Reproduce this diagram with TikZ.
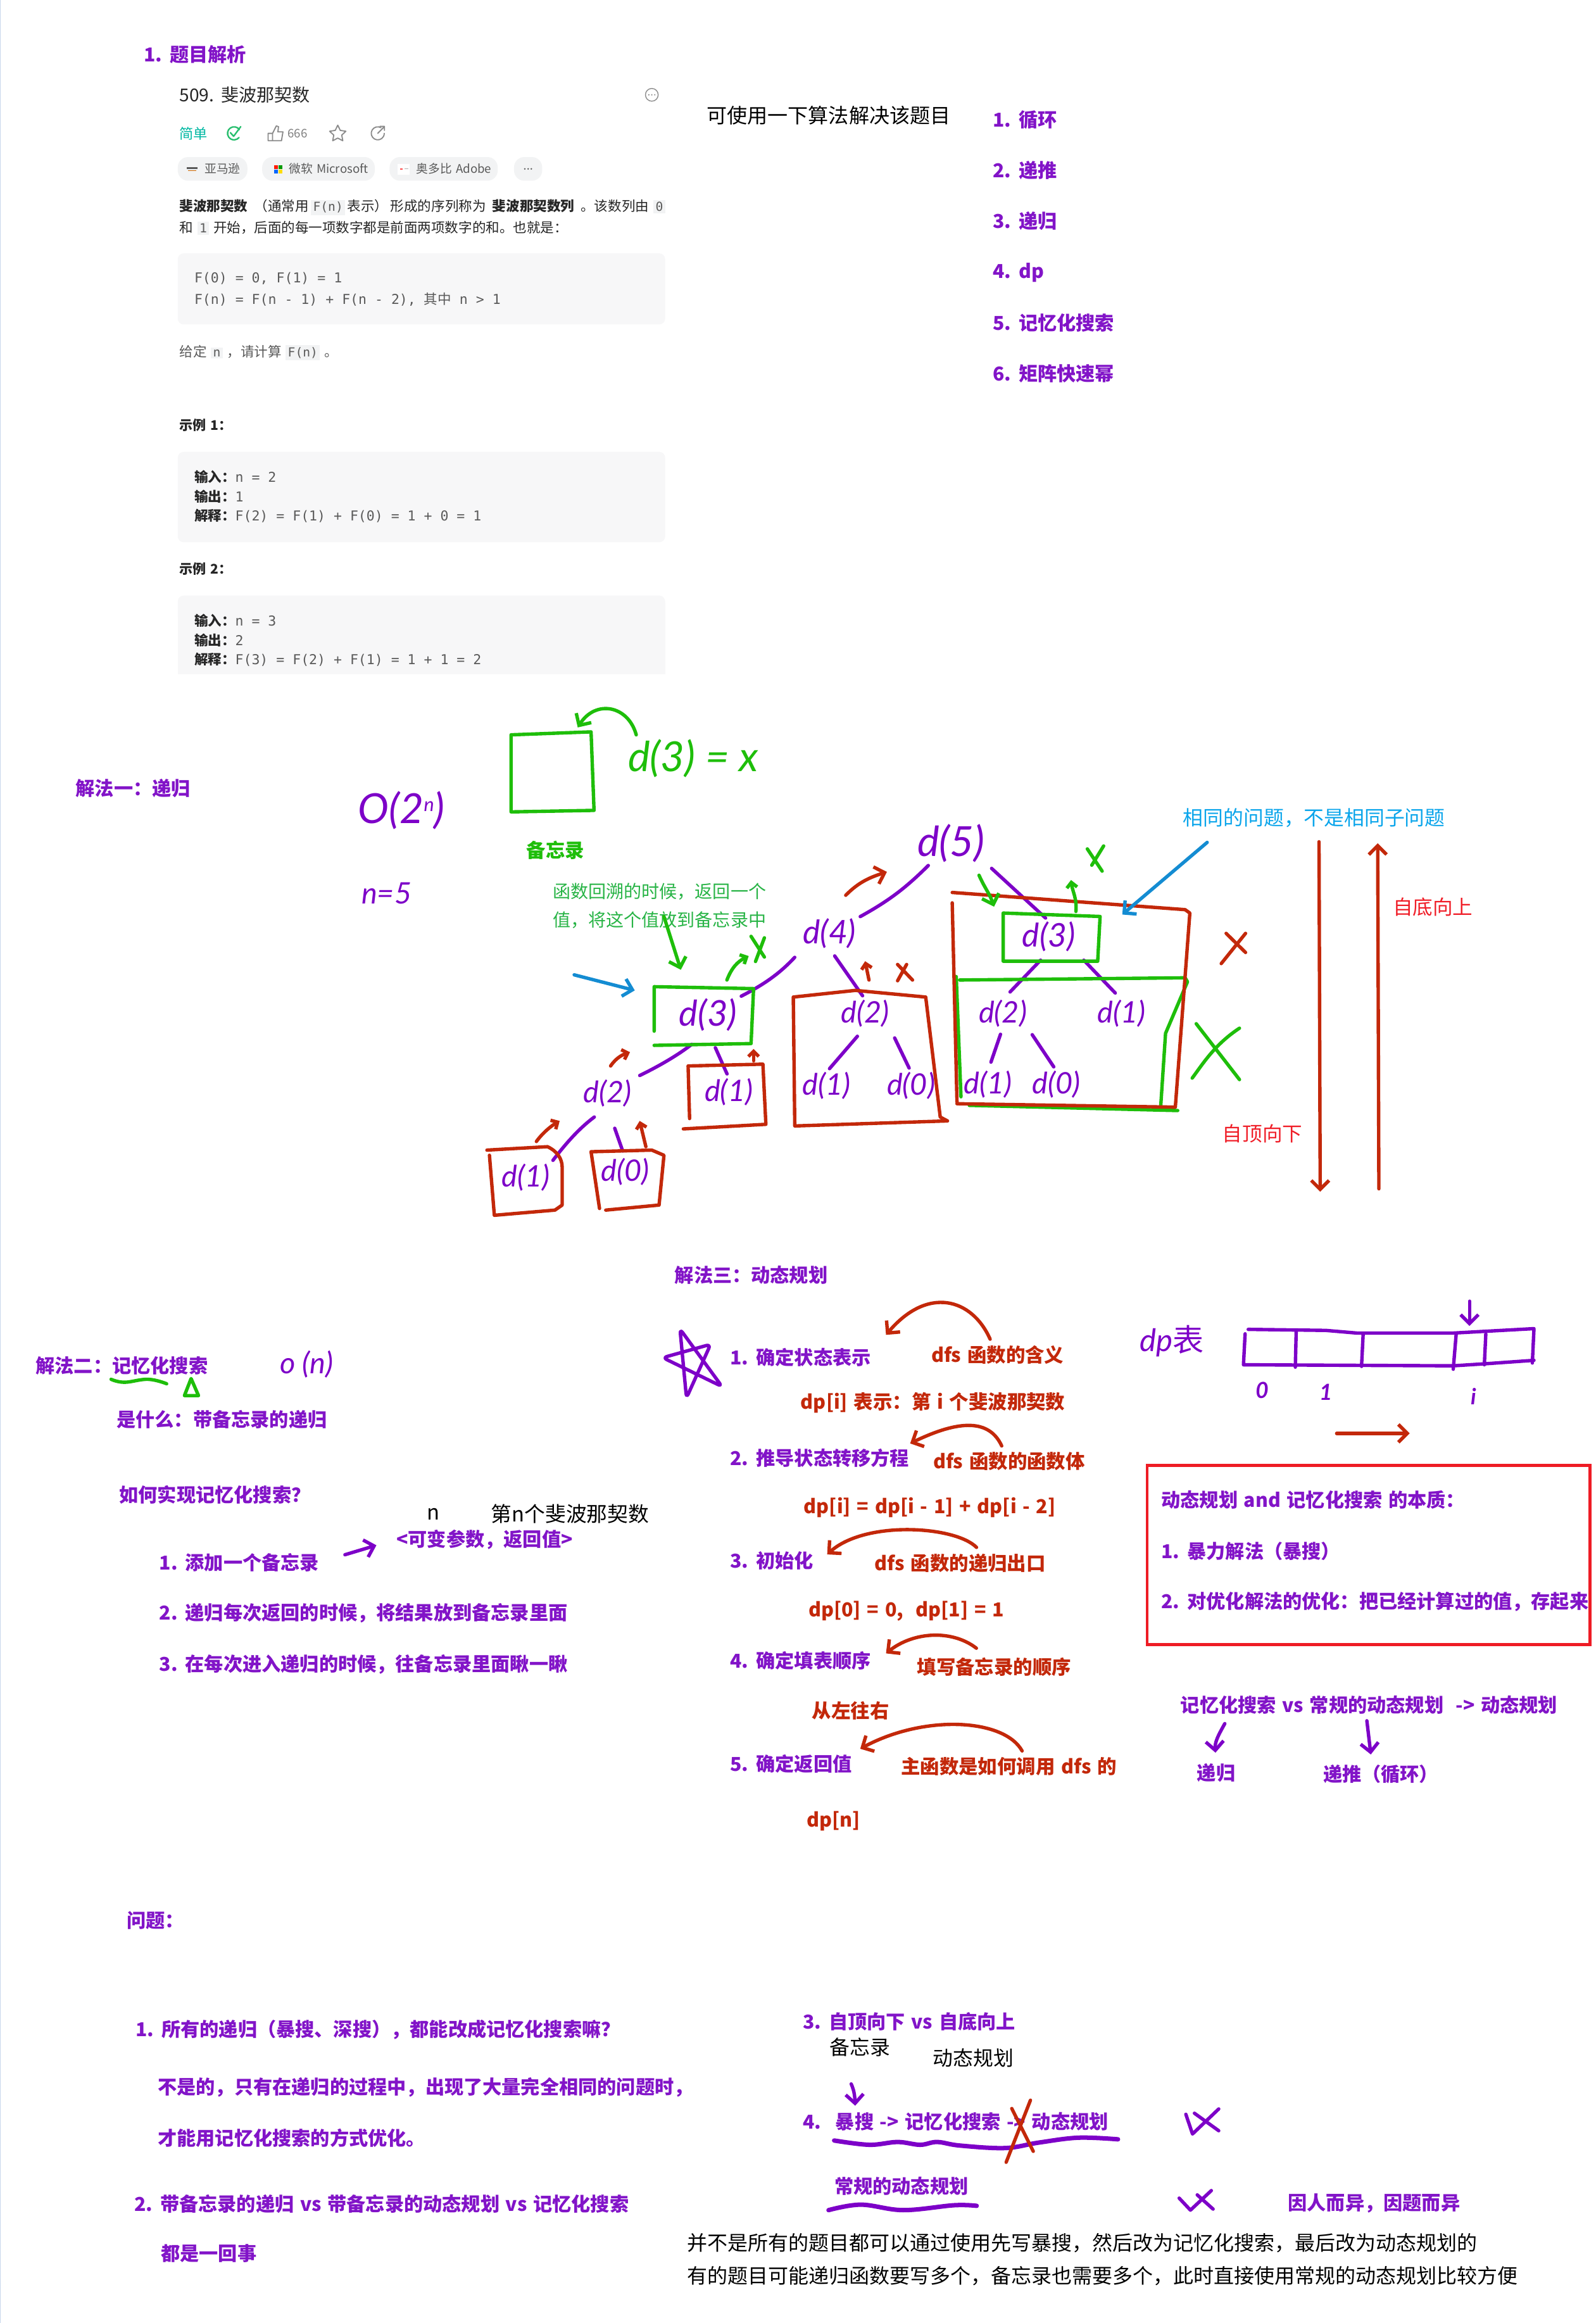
\documentclass[tikz,border=0pt]{standalone}
\usepackage{fontspec}
\setmainfont[WordSpace=1.4]{Noto Sans CJK SC}
\setmonofont{DejaVu Sans Mono}
\newfontfamily\handfont{Lato}
\usetikzlibrary{arrows.meta}
\definecolor{textpurple}{RGB}{130,20,200}
\definecolor{penpurple}{RGB}{125,0,200}
\definecolor{pengreen}{RGB}{30,190,10}
\definecolor{textgreen}{RGB}{40,180,70}
\definecolor{penred}{RGB}{195,40,10}
\definecolor{textred}{RGB}{240,30,40}
\definecolor{boxred}{RGB}{238,28,37}
\definecolor{penblue}{RGB}{20,140,210}
\definecolor{textblue}{RGB}{10,165,235}
\definecolor{chipgray}{RGB}{242,243,244}
\definecolor{codegray}{RGB}{247,247,248}
\definecolor{inkgray}{RGB}{38,38,38}
\definecolor{softgray}{RGB}{90,90,90}
\definecolor{icongray}{RGB}{140,140,140}
\definecolor{easyteal}{RGB}{0,184,163}
\definecolor{donegreen}{RGB}{40,190,110}
\definecolor{edgeblue}{RGB}{200,215,235}
\newcommand{\chip}[1]{{\setlength{\fboxsep}{1.4pt}\colorbox{chipgray}{\ttfamily\fontsize{8.4}{9}\selectfont\color{softgray}#1}}}

\begin{document}
\begin{tikzpicture}[
    x=1pt, y=-1pt,
    ptext/.style={anchor=west, inner sep=0pt, text=textpurple, font=\bfseries\fontsize{12.9}{15}\selectfont},
    rtext/.style={anchor=west, inner sep=0pt, text=penred, font=\bfseries\fontsize{13}{15}\selectfont},
    ktext/.style={anchor=west, inner sep=0pt, text=black, font=\fontsize{#1}{#1}\selectfont},
    page/.style={anchor=west, inner sep=0pt, text=inkgray, font=\fontsize{9.2}{11}\selectfont},
    pagecode/.style={anchor=west, inner sep=0pt, text=softgray, font=\ttfamily\fontsize{9.2}{11}\selectfont},
    pagechip/.style={anchor=west, inner sep=0pt, text=softgray, font=\fontsize{8}{10}\selectfont},
    noteg/.style={anchor=west, inner sep=0pt, text=textgreen, font=\fontsize{12}{14}\selectfont},
    noter/.style={anchor=west, inner sep=0pt, text=textred, font=\fontsize{13.5}{15}\selectfont},
    hand/.style={inner sep=0pt, text=penpurple, font=\handfont\itshape\fontsize{#1}{#1}\selectfont},
    pen/.style={line width=2.3pt, line cap=round, line join=round},
    ppen/.style={pen, draw=penpurple},
    gpen/.style={pen, draw=pengreen},
    rpen/.style={pen, draw=penred},
    bpen/.style={pen, draw=penblue},
    tree/.style={ppen, shorten >=3pt, shorten <=3pt},
    tip/.style={-{Straight Barb[length=6pt,width=12pt]}},
    smalltip/.style={-{Straight Barb[length=3.5pt,width=7pt]}},
    icon/.style={draw=icongray, line width=.8pt, line join=round, line cap=round}
]
\fill[white] (0,0) rectangle (1077,1568);
\useasboundingbox (0,0) rectangle (1077,1568);
\fill[edgeblue] (0,0) rectangle (0.6,1568);

% --- Problem page ---
\node[ptext] (head1) at (97,37) {1. 题目解析};
\node[anchor=west, inner sep=0pt, text=inkgray, font=\fontsize{12}{14}\selectfont] (title) at (121,64) {509. 斐波那契数};
\draw[icon, line width=.6pt] (440,64) circle (4.3);
\fill[icongray] (438,64) circle (.5) (440,64) circle (.5) (442,64) circle (.5);

\node[pagechip, text=easyteal, font=\fontsize{9.5}{11}\selectfont] (easy) at (121,90) {简单};
\draw[donegreen, line width=1pt, line cap=round] (158,90) ++(-35:4.4) arc (-35:-320:4.4);
\draw[donegreen, line width=1pt, line cap=round, line join=round] (155.5,89.5) -- (157.7,92) -- (162.5,85.5);
\draw[icon] (181,90) -- (184,90) -- (186.5,85) -- (188,85.5) -- (187.6,89) -- (191,89) -- (190,95) -- (181,95) -- cycle (184,90) -- (184,95);
\node[pagechip, font=\fontsize{8}{10}\selectfont, text=gray] (likes) at (194,90) {666};
\draw[icon] (228,84.5) -- (229.7,88) -- (233.5,88.6) -- (230.7,91.2) -- (231.4,95) -- (228,93.2) -- (224.6,95) -- (225.3,91.2) -- (222.5,88.6) -- (226.3,88) -- cycle;
\draw[icon] (255,90) ++(-60:4.4) arc (-60:-360:4.4) ++(0,0);
\draw[icon] (255,90) -- (259.5,85.5) (256.5,85.3) -- (259.5,85.3) -- (259.5,88);

\fill[chipgray, rounded corners=7pt] (120,106) rectangle (167,122);
\fill[chipgray, rounded corners=7pt] (177,106) rectangle (253,122);
\fill[chipgray, rounded corners=7pt] (263,106) rectangle (336,122);
\fill[chipgray, rounded corners=7pt] (347,106) rectangle (366,122);
\fill[softgray] (126,113) rectangle (133.5,114.2);
\fill[orange!80!black] (127,114.8) rectangle (132.5,115.3);
\fill[red!80!orange] (185,111.5) rectangle (187.6,114.2);
\fill[green!60!black] (188,111.5) rectangle (190.6,114.2);
\fill[blue!60!cyan] (185,114.6) rectangle (187.6,117.3);
\fill[yellow!80!orange] (188,114.6) rectangle (190.6,117.3);
\fill[white] (268.5,110.5) rectangle (276.5,118);
\fill[red!70] (270,113.5) rectangle (272,114.7);
\fill[gray!60] (273,113.8) rectangle (275.5,114.3);
\node[pagechip] (amazon) at (138,114) {亚马逊};
\node[pagechip] (msoft) at (195,114) {微软 Microsoft};
\node[pagechip] (adobe) at (281,114) {奥多比 Adobe};
\fill[softgray] (354.3,114) circle (.6) (356.5,114) circle (.6) (358.7,114) circle (.6);

\node[page] (para1) at (121,140) {\textbf{斐波那契数}\ \,（通常用\,\chip{F(n)}\,表示）\,形成的序列称为\, \textbf{斐波那契数列} \,。该数列由\,\,\chip{0}};
\node[page] (para2) at (121,154) {和 \chip{1} 开始，后面的每一项数字都是前面两项数字的和。也就是：};

\fill[codegray, rounded corners=4pt] (120,171) rectangle (449,219);
\node[pagecode] (code1) at (131,188) {F(0) = 0, F(1) = 1};
\node[pagecode] (code2) at (131,202) {F(n) = F(n - 1) + F(n - 2), {\rmfamily 其中} n > 1};
\node[page, text=softgray] (ask) at (121,238) {给定 \chip{n} ，请计算 \chip{F(n)} 。};

\node[page, font=\bfseries\fontsize{9}{11}\selectfont] (ex1) at (121,287) {示例 1：};
\fill[codegray, rounded corners=4pt] (120,305) rectangle (449,366);
\node[pagecode] (ex1a) at (131,322) {{\rmfamily\bfseries\color{inkgray}输入：}n = 2};
\node[pagecode] (ex1b) at (131,335) {{\rmfamily\bfseries\color{inkgray}输出：}1};
\node[pagecode] (ex1c) at (131,348) {{\rmfamily\bfseries\color{inkgray}解释：}F(2) = F(1) + F(0) = 1 + 0 = 1};

\node[page, font=\bfseries\fontsize{9}{11}\selectfont] (ex2) at (121,384) {示例 2：};
\fill[codegray] (120,407) rectangle (449,455);
\fill[codegray, rounded corners=4pt] (120,402) rectangle (449,420);
\node[pagecode] (ex2a) at (131,419) {{\rmfamily\bfseries\color{inkgray}输入：}n = 3};
\node[pagecode] (ex2b) at (131,432) {{\rmfamily\bfseries\color{inkgray}输出：}2};
\node[pagecode] (ex2c) at (131,445) {{\rmfamily\bfseries\color{inkgray}解释：}F(3) = F(2) + F(1) = 1 + 1 = 2};

% --- Method list ---
\node[ktext=13.7] (methods) at (477,78) {可使用一下算法解决该题目};
\node[ptext] (way1) at (670,81) {1. 循环};
\node[ptext] (way2) at (670,115) {2. 递推};
\node[ptext] (way3) at (670,149) {3. 递归};
\node[ptext] (way4) at (670,184) {4. dp};
\node[ptext] (way5) at (670,218) {5. 记忆化搜索};
\node[ptext] (way6) at (670,252) {6. 矩阵快速幂};

% --- Method one: recursion tree ---
\node[ptext] (sol1) at (51,532) {解法一：递归};
\node[hand=28] (cost1) at (271,547) {O(2\raisebox{8pt}{\fontsize{13}{13}\selectfont n})};
\node[hand=20] (nfive) at (261,603) {n=5};

% Memo box
\draw[gpen] (345,496) -- (399,494) -- (401,547) -- (345,548) -- cycle;
\node[hand=28, text=pengreen] (memoval) at (468,512) {d(3) = x};
\draw[gpen, tip] (429.5,496) .. controls (424,476) and (402,472) .. (390,491);
\node[anchor=center, inner sep=0pt, text=pengreen, font=\bfseries\fontsize{13}{15}\selectfont] (memo) at (375,574) {备忘录};
\node[noteg] (note1) at (373,602) {函数回溯的时候，返回一个};
\node[noteg] (note2) at (373,621) {值，将这个值放到备忘录中};

% Call tree nodes
\node[hand=28] (d5) at (642,569) {d(5)};
\node[hand=22] (d4) at (560,630) {d(4)};
\node[hand=24] (d3l) at (478,685) {d(3)};
\node[hand=20] (d2l) at (410,738) {d(2)};
\node[hand=20] (d1a) at (492,737) {d(1)};
\node[hand=20] (d1b) at (355,795) {d(1)};
\node[hand=20] (d0b) at (422,791) {d(0)};
\node[hand=20] (d2m) at (584,684) {d(2)};
\node[hand=20] (d1c) at (558,733) {d(1)};
\node[hand=20] (d0c) at (615,733) {d(0)};
\node[hand=22] (d3r) at (708,632) {d(3)};
\node[hand=20] (d2r) at (677,684) {d(2)};
\node[hand=20] (d1r) at (757,684) {d(1)};
\node[hand=20] (d1s) at (667,732) {d(1)};
\node[hand=20] (d0s) at (713,732) {d(0)};

% Call tree edges
\draw[tree] (d5) to[bend left=8] (d4);
\draw[tree, shorten <=6pt] (d5.south east) -- (d3r.north);
\draw[tree, shorten <=8pt] (d4.south west) to[bend left=10] (d3l.north east);
\draw[tree, shorten <=6pt] (d4.south) -- (d2m.north);
\draw[tree, shorten <=14pt, shorten >=6pt] (d3l.south) to[bend left=6] (d2l.north east);
\draw[tree, shorten <=12pt] (d3l.south) -- (d1a.north);
\draw[tree, shorten <=11pt] (d2l.south) to[bend right=8] (d1b.north east);
\draw[tree, shorten <=15pt, shorten >=5pt] (d2l.south) -- (d0b.north);
\draw[tree, shorten <=8pt, shorten >=3pt] (d2m.south) -- (d1c.north);
\draw[tree, shorten <=8pt, shorten >=3pt] (d2m.south east) -- (d0c.north);
\draw[tree, shorten <=8pt, shorten >=7pt] (d3r.south) -- (d2r.north);
\draw[tree, shorten <=8pt, shorten >=6pt] (d3r.south east) -- (d1r.north);
\draw[tree, shorten <=5pt, shorten >=6pt] (d2r.south) -- (d1s.north);
\draw[tree, shorten <=6pt] (d2r.south east) -- (d0s.north);

% Green memo boxes
\draw[gpen] (441.6,666) -- (508.7,667.3) -- (507,704.4) -- (441.6,705.6) (441.6,666) -- (441.6,696);
\draw[gpen] (677.2,616.3) -- (742.6,618.6) -- (741,648.8) -- (677.2,648.8) -- cycle;
\draw[gpen] (647.8,661.5) -- (800,660) -- (801.6,662.7) -- (786.8,697.5) -- (783.5,747.3);
\draw[gpen] (654.3,746.1) -- (795,749.6);
\draw[gpen] (645.5,659.2) -- (648.7,740.3);

% Red boxes
\draw[rpen] (464.5,719.5) -- (515,718.3) -- (517,758.9) -- (461.3,762) (464.5,719.5) -- (465.5,755);
\draw[rpen] (328.7,776.3) -- (369.6,774) .. controls (376,777) and (379.5,782) .. (379.5,788) -- (379.5,813.4) -- (374.6,816.8) -- (333.7,820.3) -- (330.4,779.8);
\draw[rpen] (399,777.4) -- (440,776.3) -- (448.2,779.8) -- (444.9,813.4) -- (408.9,816.8) (399,777.4) -- (404.7,815.7);
\draw[rpen] (535.5,673) -- (577.4,668.5) -- (624.9,673) -- (634.7,754) -- (639.6,756.6) -- (536.5,760) -- cycle;
\draw[rpen] (642.8,602.4) -- (800,614) -- (803.2,616.3) -- (793.4,747.3) -- (646,745) (642.8,609.4) -- (646,743.8);

% Green marks
\draw[gpen, tip] (448.2,618.7) -- (459.6,654.6);
\draw[gpen, smalltip] (490.7,661.5) .. controls (494,653) and (498,649) .. (505.4,645.3);
\draw[gpen] (507,632) -- (516,646) (516,633) -- (510,649);
\draw[gpen, tip] (660.9,590.8) .. controls (665,600) and (668,603) .. (671,612);
\draw[gpen, smalltip] (726.3,615.2) .. controls (727,606) and (724,602) .. (723,594);
\draw[gpen] (734,573) -- (744,588) (745,571) -- (737,584);
\draw[gpen] (807.5,691) -- (836.7,728.7) (836.7,694) .. controls (820,705) and (812,718) .. (804.8,727.7);

% Red marks
\draw[rpen, tip] (570.9,604.3) .. controls (580,595) and (588,592) .. (598.7,588.5);
\draw[rpen, smalltip] (586.6,661.5) -- (584,648.8);
\draw[rpen] (605.9,662) -- (612,651) (605.9,651) -- (616,661.5);
\draw[rpen, smalltip] (412.2,719.5) .. controls (416,714) and (420,712) .. (425.3,710.2);
\draw[rpen, smalltip] (508.7,716) -- (508.7,708);
\draw[rpen, smalltip] (362.1,770.5) .. controls (366,765) and (372,760) .. (377.8,756.6);
\draw[rpen, smalltip] (436,774) -- (431.8,756.6);
\draw[rpen] (824.4,650.4) -- (840.8,630) (827.7,630) -- (840.8,642.9);

% Blue arrows and the two directions
\draw[bpen, tip] (387.6,658) -- (428.5,668.5);
\draw[bpen, tip] (814.9,568.6) -- (757.6,617.3);
\node[anchor=west, inner sep=0pt, text=textblue, font=\fontsize{13.6}{15}\selectfont] (same) at (798.5,552) {相同的问题，不是相同子问题};
\draw[rpen, tip] (890.4,568.2) -- (891.2,804.4);
\draw[rpen, tip] (930.8,802.4) -- (930,569.2);
\node[noter] (upward) at (940,612) {自底向上};
\node[noter] (downward) at (825,765) {自顶向下};

% --- Method two: memoized search ---
\node[ptext] (sol2) at (24,922) {解法二：记忆化搜索};
\draw[gpen] plot[smooth, tension=.7] coordinates {(75,931) (84,933) (100,931) (112.5,934)};
\draw[gpen] (129,930.5) -- (124.5,942) -- (134,942) -- cycle;
\node[hand=20] (cost2) at (207,921) {o (n)};
\node[ptext] (what) at (78.6,958) {是什么：带备忘录的递归};
\node[ptext] (how) at (80.4,1009) {如何实现记忆化搜索？};
\node[ktext=14] (argn) at (288,1022) {n};
\node[ktext=14] (argf) at (331.4,1022) {第n个斐波那契数};
\node[ptext] (args) at (267.5,1039) {<可变参数，返回值>};
\node[ptext] (add1) at (107.4,1054.6) {1. 添加一个备忘录};
\node[ptext] (add2) at (107.4,1089) {2. 递归每次返回的时候，将结果放到备忘录里面};
\node[ptext] (add3) at (107.4,1123.3) {3. 在每次进入递归的时候，往备忘录里面瞅一瞅};
\draw[ppen, tip, shorten <=18pt, shorten >=14pt] (add1.east) -- (args.west);

% --- Method three: dynamic programming ---
\node[ptext] (sol3) at (455.3,860.7) {解法三：动态规划};
\draw[ppen, rounded corners=3pt] (447.4,916.4) -- (487.4,935.9) -- (459,897) -- (463.4,943.6) -- (479.7,907.4) -- cycle;

\node[ptext] (st1) at (492.8,916) {1. 确定状态表示};
\node[rtext] (fn1) at (628.5,914.4) {dfs 函数的含义};
\node[rtext] (val1) at (540.4,946.7) {dp[i] 表示：第 i 个斐波那契数};
\node[ptext] (st2) at (492.8,984.3) {2. 推导状态转移方程};
\node[rtext] (fn2) at (629.8,986.4) {dfs 函数的函数体};
\node[rtext] (val2) at (542.5,1017.4) {dp[i] = dp[i - 1] + dp[i - 2]};
\node[ptext] (st3) at (492.8,1053.2) {3. 初始化};
\node[rtext] (fn3) at (590.3,1055) {dfs 函数的递归出口};
\node[rtext] (val3) at (545.6,1087.4) {dp[0] = 0,\ \ dp[1] = 1};
\node[ptext] (st4) at (492.8,1121) {4. 确定填表顺序};
\node[rtext] (fn4) at (618.9,1125) {填写备忘录的顺序};
\node[rtext] (val4) at (548,1154.7) {从左往右};
\node[ptext] (st5) at (492.8,1190.4) {5. 确定返回值};
\node[rtext] (fn5) at (608,1192.3) {主函数是如何调用 dfs 的};
\node[rtext] (val5) at (544.3,1229.3) {dp[n]};

\draw[rpen, tip] ([shift={(-5,-4)}]fn1.north) .. controls (656,876) and (626,868) .. ([shift={(10,-15)}]st1.east);
\draw[rpen, tip] ([shift={(-5,-4)}]fn2.north) .. controls (668,958) and (648,958) .. ([shift={(0.5,-10)}]st2.east);
\draw[rpen, tip] ([shift={(11,-4)}]fn3.north) .. controls (645,1030) and (584,1026) .. ([shift={(9,-4)}]st3.east);
\draw[rpen, tip] ([shift={(-12,-6)}]fn4.north) .. controls (643,1100) and (617,1101) .. ([shift={(10,-5)}]st4.east);
\draw[rpen, tip] ([shift={(9,-4)}]fn5.north) .. controls (678,1160) and (624,1157) .. ([shift={(5.5,-10)}]st5.east);

% --- dp table ---
\node[hand=21] (dptab) at (791,905) {dp{\rmfamily\upshape 表}};
\draw[ppen] (842.6,897.3) -- (895,898) -- (916,899.8) -- (981,899.8) -- (1035.5,896.8) -- (1034.4,920);
\draw[ppen] (840.5,900.3) -- (839.4,921.2) -- (981,921.9) -- (1003,920.5) -- (1035.5,918.2);
\draw[ppen] (875,898) -- (874.4,922.8) (920.2,900.3) -- (919.1,922.3) (983,900.3) -- (981,924.2) (1003,900.3) -- (1002,921.2);
\draw[ppen, tip] (992,878.3) -- (992,895);
\node[hand=15, font=\handfont\bfseries\itshape\fontsize{15}{15}\selectfont] (cell0) at (852,938.5) {0};
\node[hand=15, font=\handfont\bfseries\itshape\fontsize{15}{15}\selectfont] (cell1) at (895,939.7) {1};
\node[hand=15, font=\handfont\bfseries\itshape\fontsize{15}{15}\selectfont] (celli) at (994.6,942.7) {i};
\draw[rpen, tip] (902.3,967.5) -- (951.6,967.5);

% --- Red summary box ---
\draw[boxred, line width=2pt] (774.4,989) rectangle (1073.2,1110);
\node[ptext] (core) at (783.8,1012.3) {动态规划 and 记忆化搜索 的本质：};
\node[ptext] (core1) at (783.8,1047) {1. 暴力解法（暴搜）};
\node[ptext] (core2) at (783.8,1081) {2. 对优化解法的优化：把已经计算过的值，存起来};

\node[ptext] (versus) at (796.8,1151) {记忆化搜索 vs 常规的动态规划 \ -> 动态规划};
\node[ptext, anchor=center] (rec) at (821,1196.5) {递归};
\node[ptext] (loop) at (893.3,1197.7) {递推（循环）};
\coordinate (recfrom) at (826.8,1163.4);
\coordinate (loopfrom) at (922.7,1161.5);
\draw[ppen, tip, shorten >=7pt] (recfrom) .. controls (822,1172) and (820,1176) .. (rec.north);
\draw[ppen, tip, shorten >=7pt] (loopfrom) -- ([xshift=-6pt]loop.north);

% --- Questions ---
\node[ptext] (ques) at (85.4,1296.2) {问题：};
\node[ptext] (q1) at (91.4,1369.8) {1. 所有的递归（暴搜、深搜），都能改成记忆化搜索嘛？};
\node[ptext] (a1) at (106.4,1408.9) {不是的，只有在递归的过程中，出现了大量完全相同的问题时，};
\node[ptext] (a1b) at (106.4,1443) {才能用记忆化搜索的方式优化。};
\node[ptext] (q2) at (90.5,1487.6) {2. 带备忘录的递归 vs 带备忘录的动态规划 vs 记忆化搜索};
\node[ptext] (a2) at (108.5,1521) {都是一回事};

\node[ptext] (q3) at (541.8,1364.4) {3. 自顶向下 vs 自底向上};
\node[ktext=13.6] (memo3) at (560,1382) {备忘录};
\node[ktext=13.6] (dp3) at (629.6,1389) {动态规划};
\coordinate (brutefrom) at (574.6,1406.6);
\draw[ppen, tip] (brutefrom) .. controls (577,1412) and (577,1416) .. (577.3,1421.3);
\node[ptext] (q4) at (541.8,1432.3) {4.};
\node[ptext] (q4b) at (563.9,1432) {暴搜 -> 记忆化搜索 -> 动态规划};
\draw[ppen, line width=3pt] plot[smooth, tension=.6] coordinates {(563.1,1444.8) (586.8,1447.7) (605.9,1445.8) (621.1,1447.7) (632.6,1445.8) (647.9,1448.2) (678.4,1449.9) (701.3,1446.2) (728,1442.9) (754.7,1444)};
\draw[rpen] (695.6,1417.6) -- (679.2,1459.5) (683,1423.2) -- (697.5,1452.1);
\draw[ppen] (800.5,1427.1) -- (805,1440.4) -- (822.7,1423.5) (806.3,1426.4) -- (822.7,1438.2);
\node[ptext] (plain) at (563.1,1475.6) {常规的动态规划};
\draw[ppen, line width=3pt] plot[smooth, tension=.6] coordinates {(559.3,1491.8) (581.1,1488.1) (609.7,1491.8) (644,1488.5) (659.3,1488.9)};
\draw[ppen] (796,1483.7) -- (803.6,1491.8) -- (817.7,1478.6) (808.2,1481.5) -- (818.9,1491.1);
\node[ptext] (depends) at (869.3,1487) {因人而异，因题而异};

\node[ktext=13.67] (last1) at (463.9,1513.9) {并不是所有的题目都可以通过使用先写暴搜，然后改为记忆化搜索，最后改为动态规划的};
\node[ktext=13.67] (last2) at (463.9,1536.4) {有的题目可能递归函数要写多个，备忘录也需要多个，此时直接使用常规的动态规划比较方便};

\end{tikzpicture}
\end{document}
